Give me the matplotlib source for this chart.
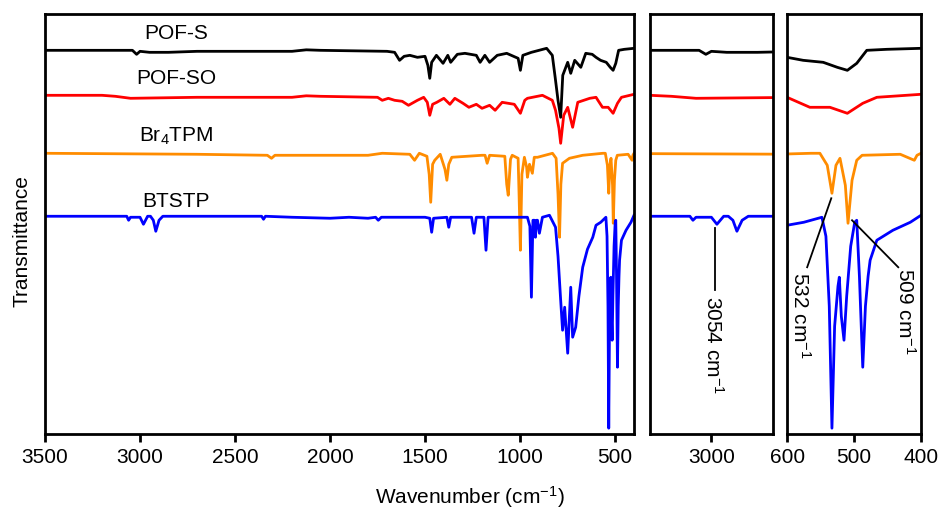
import numpy as np
import matplotlib
matplotlib.use('Agg')
import matplotlib.pyplot as plt

plt.rcParams['font.family'] = ['Liberation Sans', 'DejaVu Sans']
plt.rcParams['mathtext.default'] = 'regular'

# FTIR spectra, wavenumber (cm-1) and transmittance (a.u., baseline ~100)
names = ['POF-S', 'POF-SO', 'Br$_4$TPM', 'BTSTP']
colors = ['#000000', '#ff0000', '#ff8c00', '#0000ff']
offsets = [284, 238, 180, 118]

w_pofs = [3500, 3100, 3040, 3018, 3000, 2950, 2850, 2700, 2200, 2125, 2050, 1700, 1660,
          1634, 1610, 1580, 1540, 1500, 1485, 1475, 1465, 1440, 1405, 1380, 1365, 1330,
          1290, 1230, 1210, 1185, 1160, 1120, 1070, 1010, 998, 985, 940, 900, 860, 830,
          815, 800, 786, 775, 765, 749, 733, 712, 680, 654, 620, 600, 576, 546, 525,
          510, 496, 481, 451, 400]
t_pofs = [100, 100, 100, 96, 99, 98, 98, 99, 99, 100.5, 100, 99, 98,
          90, 94, 95, 93, 94, 85, 72, 88, 95, 87, 95, 88, 96,
          97, 95, 88, 95, 88, 95, 97, 92, 80, 95, 98, 100, 102, 95,
          73, 50, 33, 75, 80, 88, 77, 90, 83, 97, 96, 93, 90, 88, 83,
          80, 87, 100, 101, 102]

w_pofso = [3500, 3200, 3130, 3050, 2700, 2200, 2125, 2050, 1750, 1725, 1693, 1660, 1620,
           1587, 1540, 1507, 1488, 1475, 1460, 1438, 1401, 1369, 1343, 1300, 1269, 1230,
           1200, 1160, 1131, 1094, 1030, 998, 975, 961, 882, 830, 813, 795, 786, 770,
           749, 723, 696, 633, 600, 566, 536, 510, 487, 466, 400]
t_pofso = [101, 101, 100, 98, 99, 99, 100.5, 100, 99, 96, 98, 96, 95,
           91, 96, 99, 94, 81, 92, 94, 98, 92, 98, 93, 89, 92,
           88, 91, 86, 94, 92, 83, 96, 98, 101, 96, 86, 68, 53, 81,
           89, 69, 94, 98, 99, 89, 89, 83, 93, 99, 102]

w_br4tpm = [3500, 2700, 2330, 2308, 2290, 1800, 1725, 1580, 1555, 1530, 1490, 1478, 1470,
            1460, 1449, 1420, 1395, 1385, 1375, 1359, 1200, 1184, 1173, 1160, 1080, 1070,
            1062, 1050, 1041, 1010, 1005, 998, 990, 977, 965, 961, 950, 935, 925, 908,
            829, 810, 800, 792, 785, 776, 740, 670, 564, 551, 540, 533, 527, 521, 513,
            509, 503, 496, 488, 431, 410, 406, 400]
t_br4tpm = [101, 100, 99, 96, 99, 99, 101, 100, 94, 101, 98, 80, 52,
            90, 94, 100, 85, 74, 90, 97, 99, 99, 91, 99, 98, 70,
            59, 95, 99, 96, 60, 4, 80, 97, 87, 77, 90, 81, 97, 97,
            101, 96, 60, 17, 70, 91, 96, 99, 101, 101, 89, 61, 89, 96, 69,
            31, 74, 94, 99, 100, 94, 99, 101]

w_btstp = [3500, 3070, 3060, 3050, 3000, 2982, 2960, 2945, 2930, 2917, 2900, 2880, 2360,
           2350, 2340, 2200, 2000, 1900, 1800, 1760, 1746, 1730, 1500, 1475, 1465, 1455,
           1385, 1375, 1365, 1255, 1242, 1230, 1190, 1179, 1168, 961, 948, 940, 932, 924,
           919, 913, 908, 898, 882, 845, 813, 800, 786, 776, 765, 749, 733, 723, 707,
           690, 670, 645, 617, 600, 575, 548, 542, 537, 533, 529, 524, 522, 519, 515,
           511, 505, 499, 496, 492, 487, 483, 479, 476, 466, 442, 416, 400]
t_btstp = [100, 100, 96, 99, 99, 92, 100, 100, 96, 85, 96, 100, 100,
           97, 100, 99, 98, 99, 98, 99, 96, 99, 99, 98, 84, 98,
           99, 89, 99, 99, 83, 99, 99, 66, 99, 99, 90, 19, 96, 96,
           79, 96, 96, 83, 99, 101, 89, 60, 16, -14, 9, -37, 29, -21, -11,
           20, 49, 67, 79, 91, 94, 99, 80, 10, -112, -10, 30, 39, 0, -24,
           20, 70, 94, 96, 40, -51, 10, 40, 56, 76, 86, 94, 101]

spectra = [(w_pofs, t_pofs), (w_pofso, t_pofso), (w_br4tpm, t_br4tpm), (w_btstp, t_btstp)]

fig = plt.figure(figsize=(9.46, 5.12), dpi=100)
ax1 = fig.add_axes([0.0476, 0.152, 0.6226, 0.820])
ax2 = fig.add_axes([0.687, 0.152, 0.130, 0.820])
ax3 = fig.add_axes([0.832, 0.152, 0.1416, 0.820])

for ax in (ax1, ax2, ax3):
    for (w, t), off, c in zip(spectra, offsets, colors):
        ax.plot(w, np.array(t) + off, color=c, lw=2.0)
    ax.set_ylim(0, 420)
    ax.set_yticks([])
    for s in ax.spines.values():
        s.set_linewidth(2.0)
    ax.tick_params(axis='x', direction='out', length=6, width=2.0, labelsize=15, pad=4)

ax1.set_xlim(3500, 400)
ax1.set_xticks([3500, 3000, 2500, 2000, 1500, 1000, 500])
ax2.set_xlim(3200, 2800)
ax2.set_xticks([3000])
ax3.set_xlim(600, 400)
ax3.set_xticks([600, 500, 400])

# series labels
label_y = [401, 356, 298, 233]
for name, y in zip(names, label_y):
    ax1.text(2810, y, name, ha='center', va='center', fontsize=15)

# peak annotations
ax2.plot([2989, 2989], [206, 144], color='black', lw=1.3)
ax2.text(2995, 138, '3054 cm$^{-1}$', rotation=-90, ha='center', va='top', fontsize=15)
ax3.plot([534, 570], [236, 167], color='black', lw=1.3)
ax3.text(581, 162, '532 cm$^{-1}$', rotation=-90, ha='center', va='top', fontsize=15)
ax3.plot([503, 434], [214, 167], color='black', lw=1.3)
ax3.text(424, 166, '509 cm$^{-1}$', rotation=-90, ha='center', va='top', fontsize=15)

fig.text(0.497, 0.03, 'Wavenumber (cm$^{-1}$)', ha='center', va='center', fontsize=15)
fig.text(0.023, 0.53, 'Transmittance', ha='center', va='center', rotation=90, fontsize=15)

fig.savefig('out.png', dpi=100)
